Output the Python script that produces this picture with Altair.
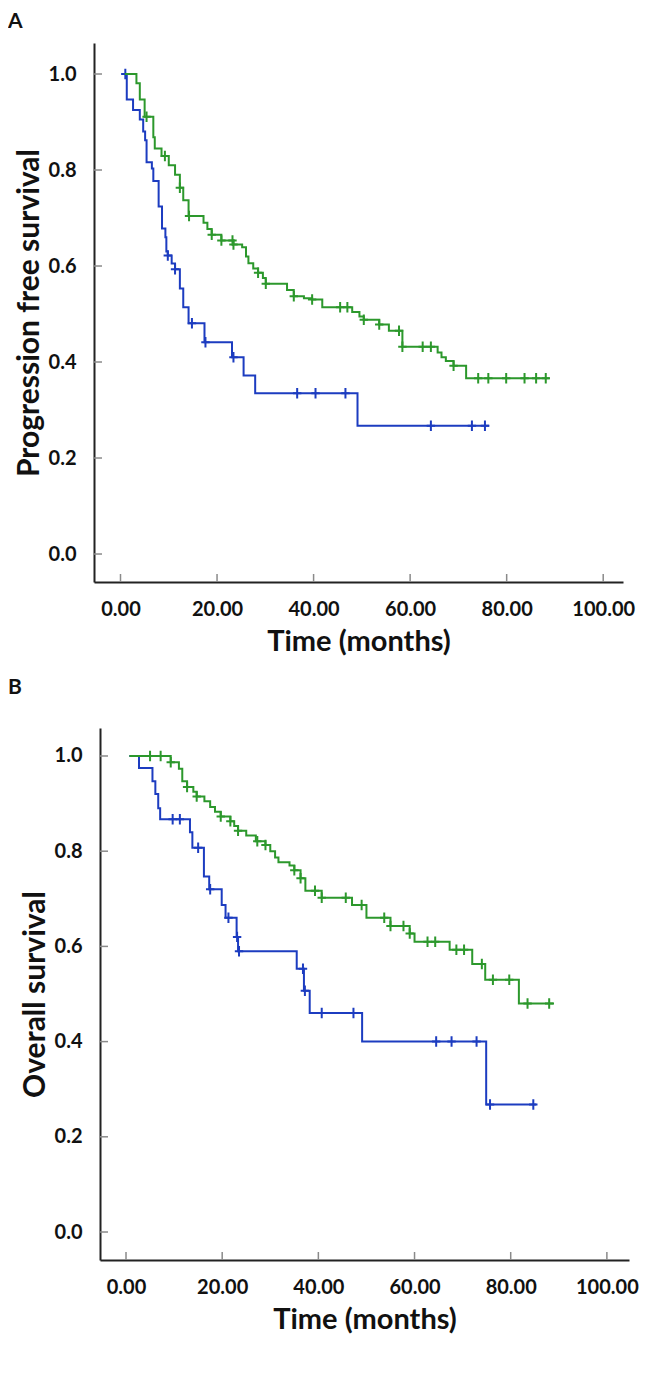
import altair as alt
import pandas as pd

# ---------------- data ----------------
X_TICKS = [0, 20, 40, 60, 80, 100]
Y_TICKS = [0.0, 0.2, 0.4, 0.6, 0.8, 1.0]

# Panel A - progression free survival
A_BLUE_T = [1.0, 1.3, 2.6, 4.0, 4.7, 5.1, 5.4, 6.5, 6.8, 7.9, 8.6, 9.3, 9.5, 9.8, 10.6, 11.3,
            12.3, 13.0, 14.1, 17.4, 23.1, 25.5, 27.9, 49.1, 76.4]
A_BLUE_S = [1.0, 0.947, 0.925, 0.905, 0.88, 0.862, 0.816, 0.803, 0.777, 0.724, 0.678, 0.66, 0.63,
            0.622, 0.605, 0.593, 0.553, 0.514, 0.481, 0.441, 0.41, 0.372, 0.335, 0.267, 0.267]
A_BLUE_C = [1.0, 9.8, 11.3, 14.8, 17.6, 23.4, 36.6, 40.4, 46.6, 64.3, 72.8, 75.5]

A_GREEN_T = [0.9, 3.3, 4.0, 5.0, 6.8, 7.1, 8.5, 10.0, 11.3, 12.3, 13.0, 14.1, 17.2, 18.0, 18.9,
             20.9, 23.4, 25.2, 26.0, 26.5, 27.5, 28.5, 29.5, 30.1, 34.5, 35.9, 38.0, 39.7, 41.8,
             48.0, 49.5, 50.4, 53.6, 55.6, 58.4, 65.7, 66.5, 67.4, 69.0, 71.6, 88.9]
A_GREEN_S = [1.0, 0.981, 0.947, 0.911, 0.868, 0.845, 0.829, 0.81, 0.79, 0.763, 0.737, 0.704, 0.69,
             0.677, 0.665, 0.653, 0.645, 0.639, 0.62, 0.606, 0.595, 0.586, 0.575, 0.563, 0.55,
             0.537, 0.533, 0.53, 0.514, 0.504, 0.495, 0.488, 0.478, 0.465, 0.432, 0.42, 0.41,
             0.402, 0.392, 0.366, 0.366]
A_GREEN_C = [5.4, 9.2, 12.3, 14.2, 18.9, 20.9, 23.2, 23.4, 28.5, 30.1, 35.9, 39.7, 45.5, 47.0,
             50.4, 53.6, 57.7, 58.4, 62.6, 64.3, 69.0, 74.1, 76.2, 79.9, 83.7, 86.1, 88.1]

# Panel B - overall survival
B_BLUE_T = [0.7, 2.7, 5.5, 6.1, 6.7, 7.1, 13.3, 13.8, 16.2, 17.3, 19.9, 20.7, 23.0, 23.3, 35.5,
            37.0, 38.2, 49.1, 74.9, 85.3]
B_BLUE_S = [1.0, 0.975, 0.947, 0.92, 0.89, 0.867, 0.84, 0.807, 0.747, 0.72, 0.687, 0.66, 0.62,
            0.59, 0.553, 0.507, 0.46, 0.40, 0.268, 0.268]
B_BLUE_C = [9.7, 11.2, 15.0, 17.5, 21.3, 23.1, 23.5, 36.8, 37.2, 40.7, 47.3, 64.5, 67.7, 72.9,
            75.7, 84.7]

B_GREEN_T = [0.7, 9.3, 11.0, 11.7, 12.7, 14.0, 14.7, 16.3, 17.5, 18.5, 19.7, 21.7, 22.5, 23.3,
             25.0, 27.0, 29.0, 30.0, 31.0, 31.7, 34.0, 35.0, 36.3, 37.3, 40.7, 47.0, 50.0, 55.0,
             59.0, 60.0, 67.3, 72.0, 74.7, 81.7, 89.0]
B_GREEN_S = [1.0, 0.987, 0.973, 0.947, 0.935, 0.925, 0.915, 0.905, 0.893, 0.883, 0.873, 0.863,
             0.853, 0.843, 0.833, 0.821, 0.813, 0.80, 0.787, 0.777, 0.77, 0.76, 0.743, 0.717,
             0.702, 0.687, 0.66, 0.643, 0.627, 0.61, 0.593, 0.563, 0.530, 0.480, 0.480]
B_GREEN_C = [5.0, 7.2, 9.3, 12.7, 14.7, 19.7, 21.7, 23.3, 27.3, 29.0, 35.0, 36.3, 39.3, 40.7,
             45.7, 49.0, 53.7, 55.0, 57.7, 59.0, 62.7, 64.3, 68.7, 70.3, 74.0, 76.3, 79.7, 83.5,
             88.0]

# ---------------- styling ----------------
FONT = "Lato"
BLUE = "#1c3cc0"
GREEN = "#2c982c"
AXIS_COLOR = "#222222"
TICK_COLOR = "#8a8a8a"
TEXT_COLOR = "#111111"
PLUS = "M0,-1L0,1M-0.8,0L0.8,0"


def level_at(T, S, t):
    v = S[0]
    for ti, si in zip(T, S):
        if ti <= t + 1e-9:
            v = si
    return v


def curve_df(T, S):
    return pd.DataFrame({"t": T, "s": S})


def cens_df(T, S, C):
    return pd.DataFrame({"t": C, "s": [level_at(T, S, c) for c in C]})


def panel(letter, letter_y, ylabel, blue, green, xdom, x0, W, ydom, H):
    xs = alt.Scale(domain=xdom, range=[x0, W], nice=False, zero=False)
    ys = alt.Scale(domain=ydom, nice=False, zero=False)
    x_axis = alt.Axis(values=X_TICKS, format=".2f", ticks=False, tickSize=0, grid=False,
                      domainColor=AXIS_COLOR, domainWidth=2, labelFont=FONT, labelFontSize=20,
                      labelFontWeight="bold", labelColor=TEXT_COLOR, labelPadding=17,
                      labelOverlap=False, labelFlush=False,
                      title="Time (months)", titleFont=FONT, titleFontSize=29,
                      titleFontWeight="bold", titleColor=TEXT_COLOR, titlePadding=8)
    y_axis = alt.Axis(values=Y_TICKS, format=".1f", ticks=False, tickSize=0, grid=False,
                      domainColor=AXIS_COLOR, domainWidth=2, offset=-x0, labelFont=FONT,
                      labelFontSize=20, labelFontWeight="bold", labelColor=TEXT_COLOR,
                      labelPadding=18, labelOverlap=False, labelFlush=False,
                      title=ylabel, titleFont=FONT, titleFontSize=30, titleFontWeight="bold",
                      titleColor=TEXT_COLOR, titlePadding=4)

    (bT, bS, bC), (gT, gS, gC) = blue, green
    blue_line = alt.Chart(curve_df(bT, bS)).mark_line(
        interpolate="step-after", color=BLUE, strokeWidth=2).encode(
        x=alt.X("t:Q", scale=xs, axis=x_axis), y=alt.Y("s:Q", scale=ys, axis=y_axis))
    green_line = alt.Chart(curve_df(gT, gS)).mark_line(
        interpolate="step-after", color=GREEN, strokeWidth=2).encode(
        x=alt.X("t:Q", scale=xs), y=alt.Y("s:Q", scale=ys))
    blue_c = alt.Chart(cens_df(bT, bS, bC)).mark_point(
        shape=PLUS, size=110, color=BLUE, strokeWidth=2, filled=False, opacity=1).encode(
        x=alt.X("t:Q", scale=xs), y=alt.Y("s:Q", scale=ys))
    green_c = alt.Chart(cens_df(gT, gS, gC)).mark_point(
        shape=PLUS, size=110, color=GREEN, strokeWidth=2, filled=False, opacity=1).encode(
        x=alt.X("t:Q", scale=xs), y=alt.Y("s:Q", scale=ys))

    # inward-pointing tick marks (as in the original figure)
    y_ticks = alt.Chart(pd.DataFrame({"s": Y_TICKS})).mark_rule(
        color=TICK_COLOR, strokeWidth=1.5).encode(
        y=alt.Y("s:Q", scale=ys), x=alt.value(x0), x2=alt.value(x0 + 8))
    x_ticks = alt.Chart(pd.DataFrame({"t": X_TICKS})).mark_rule(
        color=TICK_COLOR, strokeWidth=1.5).encode(
        x=alt.X("t:Q", scale=xs), y=alt.value(H), y2=alt.value(H - 8))

    tag = alt.Chart(pd.DataFrame({"label": [letter]})).mark_text(
        align="left", baseline="middle", fontSize=21, font=FONT, fontWeight="bold",
        color=TEXT_COLOR).encode(x=alt.value(-86), y=alt.value(letter_y), text="label:N")

    return alt.layer(blue_line, blue_c, green_line, green_c, y_ticks, x_ticks, tag).properties(
        width=W, height=H)


chart_a = panel("A", -21, "Progression free survival",
                (A_BLUE_T, A_BLUE_S, A_BLUE_C), (A_GREEN_T, A_GREEN_S, A_GREEN_C),
                [-5.49, 104.1], 0, 529, [-0.0583, 1.0646], 539)
chart_b = panel("B", -40, "Overall survival",
                (B_BLUE_T, B_BLUE_S, B_BLUE_C), (B_GREEN_T, B_GREEN_S, B_GREEN_C),
                [-5.41, 104.6], 6, 535, [-0.0588, 1.0588], 532)

chart = alt.vconcat(chart_a, chart_b, spacing=21).properties(
    padding={"left": 0, "top": 3, "right": 0, "bottom": 0},
    background="white").configure_view(stroke=None)

chart.save("out.html", embed_options={"renderer": "svg", "actions": False})
